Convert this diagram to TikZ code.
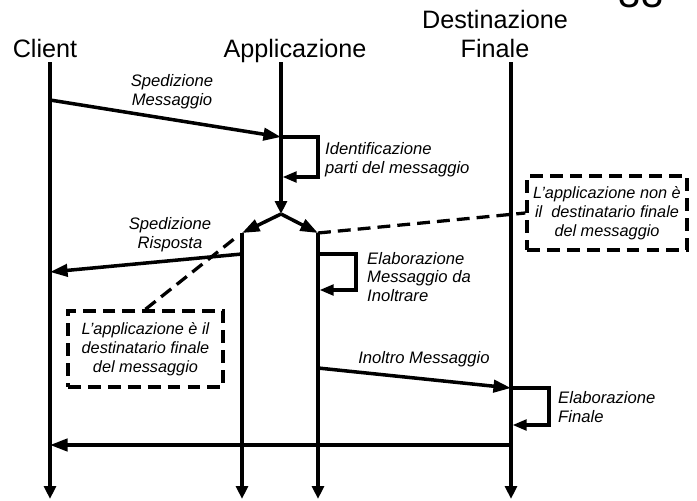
\documentclass[tikz,border=0pt]{standalone}
\usepackage{fontspec}
\setmainfont{Liberation Sans}
\usetikzlibrary{arrows.meta}
\tikzset{
  lifeline/.style={line width=3.3pt, -{Triangle[length=11pt,width=10pt]}},
  msg/.style={line width=3pt, -{Triangle[length=15pt,width=10.5pt]}},
  selfmsg/.style={line width=2.8pt, -{Triangle[length=12pt,width=9pt]}},
  actor/.style={font=\fontsize{21.5}{25.5}\selectfont, align=center, inner sep=0pt},
  lbl/.style={font=\fontsize{14.2}{16}\selectfont\itshape, inner sep=0pt},
  notebox/.style={draw, line width=3pt, dash pattern=on 11pt off 6pt, align=center,
    font=\fontsize{13.9}{16.2}\selectfont\itshape},
  notelink/.style={line width=2.8pt, dash pattern=on 11pt off 6pt}
}
\begin{document}
\begin{tikzpicture}[x=0.03cm, y=-0.03cm]
\useasboundingbox (0,0) rectangle (697,500);
% page number, cut at the top
\node[font=\fontsize{34}{34}\selectfont, anchor=base] (pagenum) at (641,7) {33};
% actors
\node[actor, anchor=base] (client) at (45,57) {Client};
\node[actor, anchor=base] (app) at (295,57) {Applicazione};
\node[actor] (dest) at (495,34) {Destinazione\\Finale};
% lifelines
\coordinate (c-top) at (50,62);  \coordinate (c-bot) at (50,499);
\coordinate (a-top) at (281,62); \coordinate (a-fork) at (281,214);
\coordinate (al-top) at (242,233); \coordinate (al-bot) at (242,499);
\coordinate (ar-top) at (318,233); \coordinate (ar-bot) at (318,499);
\coordinate (d-top) at (511,62); \coordinate (d-bot) at (511,499);
\draw[lifeline] (c-top) -- (c-bot);
\draw[lifeline] (a-top) -- (a-fork);
\draw[msg] (a-fork) -- (al-top);
\draw[msg] (a-fork) -- (ar-top);
\draw[lifeline] (al-top) -- (al-bot);
\draw[lifeline] (ar-top) -- (ar-bot);
\draw[lifeline] (d-top) -- (d-bot);
% messages
\coordinate (sm-a) at (50,100); \coordinate (sm-b) at (281,137);
\draw[msg] (sm-a) -- (sm-b);
\node[lbl, align=center] (sm-lbl) at (172,92) {Spedizione\\Messaggio};
\coordinate (id-b) at (318,177); \coordinate (id-c) at (282.5,177);
\draw[selfmsg] (sm-b) -| (id-b) -- (id-c);
\node[lbl, align=left, anchor=west] (id-lbl) at (325,160) {Identificazione\\parti del messaggio};
\coordinate (sr-a) at (242,254); \coordinate (sr-b) at (50,272);
\draw[msg] (sr-a) -- (sr-b);
\node[lbl, align=center] (sr-lbl) at (170,235) {Spedizione\\Risposta};
\coordinate (el-a) at (318,254); \coordinate (el-b) at (356,290); \coordinate (el-c) at (319.5,290);
\draw[selfmsg] (el-a) -| (el-b) -- (el-c);
\node[lbl, align=left, anchor=west] (el-lbl) at (367,277) {Elaborazione\\Messaggio da\\Inoltrare};
\coordinate (in-a) at (318,368); \coordinate (in-b) at (511,388);
\draw[msg] (in-a) -- (in-b);
\node[lbl] (in-lbl) at (424,359) {Inoltro Messaggio};
\coordinate (fi-b) at (549,425); \coordinate (fi-c) at (512.5,425);
\draw[selfmsg] (in-b) -| (fi-b) -- (fi-c);
\node[lbl, align=left, anchor=west] (fi-lbl) at (558,407) {Elaborazione\\Finale};
\coordinate (rt-a) at (511,445); \coordinate (rt-b) at (50,445);
\draw[msg] (rt-a) -- (rt-b);
% notes
\node[notebox, minimum width=4.65cm, minimum height=2.28cm] (lnote) at (145.5,349)
  {L'applicazione è il\\destinatario finale\\del messaggio};
\node[notebox, minimum width=4.8cm, minimum height=2.22cm] (rnote) at (607,213)
  {L'applicazione non è\\il\ \ destinatario finale\\del messaggio};
\coordinate (lnk) at (234,239);
\draw[notelink] (lnote.north) -- (lnk);
\draw[notelink] (ar-top) -- (rnote.west);
\end{tikzpicture}
\end{document}
